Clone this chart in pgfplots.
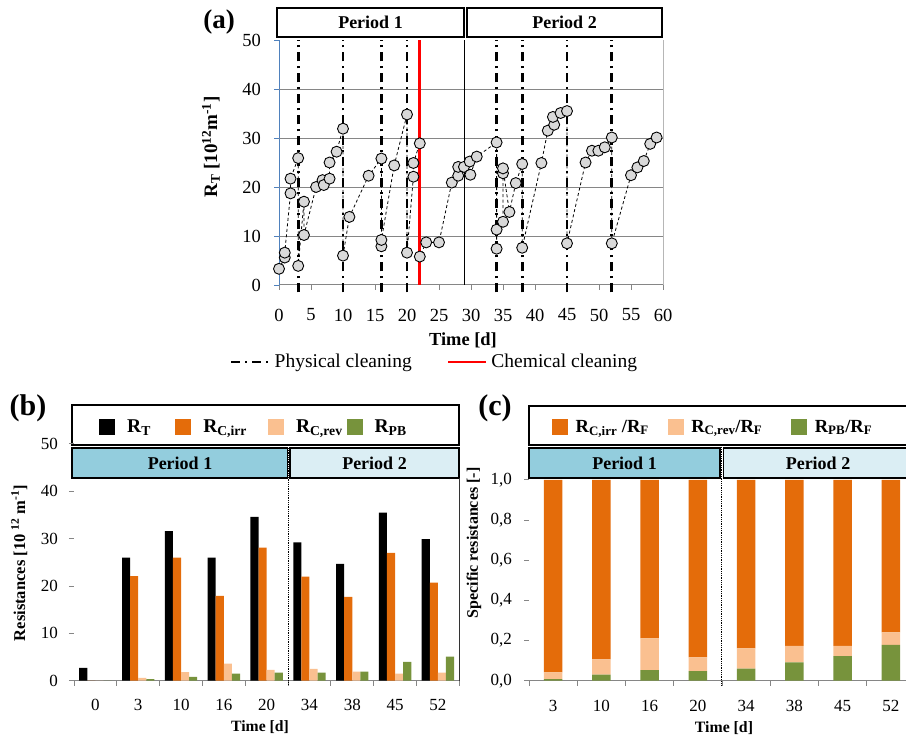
\documentclass[border=0pt]{standalone}
\usepackage{pgfplots}
\pgfplotsset{compat=1.18}
\usepackage{fontspec}
\setmainfont{Liberation Serif}
\definecolor{myorange}{HTML}{E46C0A}
\definecolor{mypeach}{HTML}{FAC090}
\definecolor{mygreen}{HTML}{77933C}
\definecolor{pone}{HTML}{93CDDD}
\definecolor{ptwo}{HTML}{DBEEF4}
\definecolor{axblue}{HTML}{4F81BD}
\definecolor{gridgray}{HTML}{868686}
\newcommand{\fs}[1]{\fontsize{#1}{#1}\selectfont}
\pgfplotsset{
  sqlegend/.style={legend image code/.code={\fill[##1] (0pt,-8pt) rectangle (16pt,8pt);}},
  linelegend/.style={legend image code/.code={\draw[##1] (0pt,0pt) -- (38pt,0pt);}},
  clean/.style={black, line width=2.7pt, dash pattern=on 9pt off 5pt on 2pt off 5pt, linelegend},
}
\begin{document}
\begin{tikzpicture}[x=1pt,y=1pt]
\useasboundingbox (0,0) rectangle (906,741);
% legend boxes for (b) and (c)
\draw[draw=black, line width=1.2pt, fill=white] (72,336) rectangle (459,296);
\draw[draw=black, line width=1.2pt, fill=white] (529,335) rectangle (915,296);

% ---------------- panel (a)
\begin{axis}[
  at={(279pt,456pt)}, anchor=south west,
  scale only axis, width=384pt, height=245pt,
  xmin=0, xmax=60, ymin=0, ymax=50,
  clip=false,
  axis x line*=bottom, axis y line*=left,
  x axis line style={gridgray, line width=1pt, -},
  y axis line style={axblue, line width=1pt, -},
  xtick={0,5,...,60}, ytick={0,10,...,50},
  tick align=outside, major tick length=5pt,
  x tick style={gridgray, line width=0.8pt},
  y tick style={axblue, line width=0.8pt},
  /pgf/number format/assume math mode=true,
  ticklabel style={font=\fs{18.5}},
  xticklabel style={anchor=center, yshift=-25pt},
  yticklabel style={anchor=east, inner sep=0pt, xshift=-13pt},
  legend columns=2,
  legend cell align=left,
  legend style={at={(-0.128,-0.314)}, anchor=west, draw=none, fill=none, inner sep=0pt,
    font=\fs{19.5}, column sep=2pt, /tikz/every even column/.append style={column sep=33pt}},
]
\draw[gridgray, line width=0.8pt] (axis cs:0,10) -- (axis cs:60,10);
\draw[gridgray, line width=0.8pt] (axis cs:0,20) -- (axis cs:60,20);
\draw[gridgray, line width=0.8pt] (axis cs:0,30) -- (axis cs:60,30);
\draw[gridgray, line width=0.8pt] (axis cs:0,40) -- (axis cs:60,40);
\draw[gridgray!60, line width=0.8pt] (axis cs:60,0) -- (axis cs:60,50);
\draw[black, line width=1pt] (axis cs:29,0) -- (axis cs:29,50);
\addplot[black, line width=0.8pt, dash pattern=on 3pt off 2.5pt, mark=*, mark size=5.5pt,
  mark options={solid, fill=gray!30, draw=black, line width=0.9pt}, forget plot] coordinates {
(0,3.3) (0.9,5.6) (0.9,6.6) (1.8,18.7) (1.8,21.7) (3,25.9) (3,3.9) (3.9,17.0) (3.9,10.2)
(5.8,20.0) (6.8,21.4) (7.0,20.4) (7.9,21.7) (7.9,25.0) (9,27.2) (10,31.9) (10,6.0) (11,13.9)
(14,22.3) (16,25.8) (16,7.9) (16,9.2) (18,24.4) (20,34.8) (20,6.6) (21,22.1) (21,24.9)
(22,28.9) (22,5.8) (23,8.7) (25,8.7) (27,20.9) (28,22.3) (28,24.1) (28.9,24.1) (29.8,25.2)
(29.9,22.5) (30.9,26.2) (34,29.1) (34,7.4) (34,11.3) (35,12.9) (35,22.8) (35,23.8) (36,14.9)
(37,20.8) (38,24.7) (38,7.6) (41,24.9) (42,31.5) (43,32.7) (42.8,34.3) (44,35.1) (45,35.5)
(45,8.5) (47.9,25.0) (48.9,27.4) (49.9,27.4) (50.9,28.1) (52,30.1) (52,8.5) (55,22.4)
(56,24.0) (57,25.3) (58,28.8) (59,30.1)};
\addplot[clean] coordinates {(3,-1.5) (3,50)};
\addlegendentry{Physical cleaning}
\addplot[clean, forget plot] coordinates {(10,-1.5) (10,50)};
\addplot[clean, forget plot] coordinates {(16,-1.5) (16,50)};
\addplot[clean, forget plot] coordinates {(20,-1.5) (20,50)};
\addplot[clean, forget plot] coordinates {(34,-1.5) (34,50)};
\addplot[clean, forget plot] coordinates {(38,-1.5) (38,50)};
\addplot[clean, forget plot] coordinates {(45,-1.5) (45,50)};
\addplot[clean, forget plot] coordinates {(52,-1.5) (52,50)};
\addplot[red, line width=2.7pt, linelegend] coordinates {(22,0) (22,50)};
\addlegendentry{Chemical cleaning}
\end{axis}
\draw[draw=black, line width=2pt, fill=white] (277,733) rectangle (464,704);
\draw[draw=black, line width=2pt, fill=white] (467,733) rectangle (662,704);
\node[inner sep=0pt, font=\bfseries\fs{18}] at (370.5,718.5) {Period 1};
\node[inner sep=0pt, font=\bfseries\fs{18}] at (564.5,718.5) {Period 2};
\node[inner sep=0pt, font=\bfseries\fs{27}] at (219,719) {(a)};
\node[inner sep=0pt, rotate=90, font=\bfseries\fs{19}] at (211,594) {R\textsubscript{T} [10\textsuperscript{12}m\textsuperscript{-1}]};
\node[inner sep=0pt, font=\bfseries\fs{18.4}] at (463,401) {Time [d]};

% ---------------- panel (b)
\begin{axis}[
  at={(74pt,60.3pt)}, anchor=south west,
  scale only axis, width=385.3pt, height=236.7pt,
  xmin=-0.5, xmax=8.5, ymin=0, ymax=50,
  ybar=0pt, bar width=8.1pt,
  clip=false,
  axis x line*=bottom, axis y line*=left,
  x axis line style={gridgray, line width=1.2pt, -},
  y axis line style={draw=none},
  xtick={0,...,8}, xticklabels={0,3,10,16,20,34,38,45,52},
  minor xtick={-0.5,0.5,...,8.5},
  major x tick style={draw=none},
  minor x tick style={gridgray, line width=1pt},
  ytick={0,10,...,50},
  y tick style={gridgray, line width=1pt},
  tick align=outside, major tick length=5pt, minor tick length=5pt,
  /pgf/number format/assume math mode=true,
  ticklabel style={font=\fs{17}},
  xticklabel style={anchor=center, yshift=-19.3pt},
  yticklabel style={anchor=east, inner sep=0pt, xshift=-11pt},
  legend columns=4,
  legend style={at={(0.0649,1.072)}, anchor=west, draw=none, fill=none, inner sep=0pt,
    font=\bfseries\fs{19.5}, column sep=10pt,
    /tikz/column 2/.append style={column sep=22.4pt},
    /tikz/column 4/.append style={column sep=19pt},
    /tikz/column 6/.append style={column sep=2pt}},
  legend cell align=left,
]
\addplot[fill=black, draw=none, sqlegend] coordinates {(0,2.7) (1,26.0) (2,31.6) (3,26.0) (4,34.6) (5,29.2) (6,24.7) (7,35.5) (8,29.9)};
\addlegendentry{R\textsubscript{T}}
\addplot[fill=myorange, draw=none, sqlegend] coordinates {(0,0) (1,22.1) (2,26.0) (3,17.9) (4,28.1) (5,22.0) (6,17.7) (7,27.0) (8,20.7)};
\addlegendentry{R\textsubscript{C,irr}}
\addplot[fill=mypeach, draw=none, sqlegend] coordinates {(0,0) (1,0.6) (2,1.8) (3,3.6) (4,2.3) (5,2.5) (6,1.9) (7,1.5) (8,1.7)};
\addlegendentry{R\textsubscript{C,rev}}
\addplot[fill=mygreen, draw=none, sqlegend] coordinates {(0,0) (1,0.35) (2,0.8) (3,1.5) (4,1.7) (5,1.7) (6,1.9) (7,4.0) (8,5.1)};
\addlegendentry{R\textsubscript{PB}}
\end{axis}
\draw[fill=pone, draw=black, line width=1.2pt] (72,293) rectangle (287.5,263);
\draw[fill=ptwo, draw=black, line width=1.2pt] (290,293) rectangle (459,263);
\node[inner sep=0pt, font=\bfseries\fs{18}] at (180,278) {Period 1};
\node[inner sep=0pt, font=\bfseries\fs{18}] at (374.5,278) {Period 2};
\draw[black!80, line width=0.8pt] (459,263) -- (459,60.3);
\draw[black, densely dotted, line width=0.8pt] (288.8,293) -- (288.8,56);
\node[inner sep=0pt, font=\bfseries\fs{30}] at (28,333) {(b)};
\node[inner sep=0pt, rotate=90, font=\bfseries\fs{16.5}] at (19.3,178) {Resistances [10 \textsuperscript{12} m\textsuperscript{-1}]};
\node[inner sep=0pt, font=\bfseries\fs{15.7}] at (260,14) {Time [d]};

% ---------------- panel (c)
\begin{axis}[
  at={(529pt,60.3pt)}, anchor=south west,
  scale only axis, width=386pt, height=200.7pt,
  xmin=-0.5, xmax=7.5, ymin=0, ymax=1,
  ybar stacked, bar width=18.7pt,
  clip=false,
  axis x line*=bottom, axis y line*=left,
  x axis line style={gridgray, line width=1.2pt, -},
  y axis line style={draw=none},
  xtick={0,...,7}, xticklabels={3,10,16,20,34,38,45,52},
  minor xtick={-0.5,0.5,...,7.5},
  major x tick style={draw=none},
  minor x tick style={gridgray, line width=1pt},
  ytick={0,0.2,0.4,0.6,0.8,1},
  y tick style={gridgray, line width=1pt},
  tick align=outside, major tick length=5pt, minor tick length=5pt,
  /pgf/number format/assume math mode=true,
  ticklabel style={font=\fs{17}},
  xticklabel style={anchor=center, yshift=-20.3pt},
  yticklabel style={/pgf/number format/fixed, /pgf/number format/fixed zerofill,
    /pgf/number format/precision=1, /pgf/number format/use comma,
    /tikz/anchor=east, /tikz/inner sep=0pt, /tikz/xshift=-12pt},
  legend columns=3,
  reverse legend,
  legend style={at={(0.0596,1.264)}, anchor=west, draw=none, fill=none, inner sep=0pt,
    font=\bfseries\fs{18.5}, column sep=5.5pt,
    /tikz/column 2/.append style={column sep=17pt},
    /tikz/column 4/.append style={column sep=27pt}},
  legend cell align=left,
]
\addplot[fill=mygreen, draw=none, sqlegend] coordinates {(0,0.008) (1,0.030) (2,0.053) (3,0.048) (4,0.060) (5,0.091) (6,0.123) (7,0.178)};
\addlegendentry{R\textsubscript{PB}/R\textsubscript{F}}
\addplot[fill=mypeach, draw=none, sqlegend] coordinates {(0,0.034) (1,0.076) (2,0.158) (3,0.068) (4,0.101) (5,0.082) (6,0.050) (7,0.063)};
\addlegendentry{R\textsubscript{C,rev}/R\textsubscript{F}}
\addplot[fill=myorange, draw=none, sqlegend] coordinates {(0,0.958) (1,0.894) (2,0.789) (3,0.884) (4,0.839) (5,0.827) (6,0.827) (7,0.759)};
\addlegendentry{R\textsubscript{C,irr} /R\textsubscript{F}}
\end{axis}
\draw[fill=pone, draw=black, line width=1.2pt] (529,293) rectangle (720,263);
\draw[fill=ptwo, draw=black, line width=1.2pt] (723.5,293) rectangle (915,263);
\node[inner sep=0pt, font=\bfseries\fs{18}] at (624.5,278) {Period 1};
\node[inner sep=0pt, font=\bfseries\fs{18}] at (818,278) {Period 2};
\draw[black, densely dotted, line width=0.8pt] (721.7,294) -- (721.7,56);
\node[inner sep=0pt, font=\bfseries\fs{30}] at (495,333) {(c)};
\node[inner sep=0pt, rotate=90, font=\bfseries\fs{16}] at (474,198) {Specific resistances [-]};
\node[inner sep=0pt, font=\bfseries\fs{15.8}] at (724,13) {Time [d]};
\end{tikzpicture}
\end{document}
